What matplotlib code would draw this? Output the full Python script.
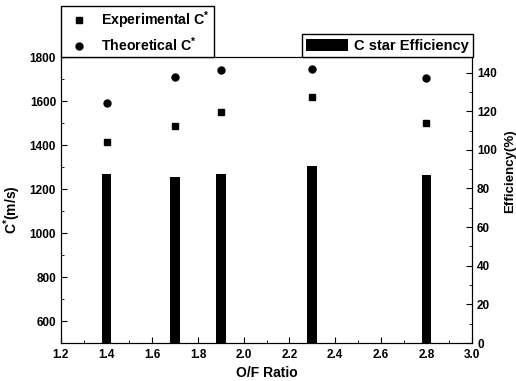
import matplotlib
matplotlib.use("Agg")
import matplotlib.pyplot as plt
from matplotlib.ticker import MultipleLocator

plt.rcParams['font.family'] = ['Liberation Sans', 'DejaVu Sans']
plt.rcParams['font.weight'] = 'bold'
plt.rcParams['mathtext.default'] = 'regular'

of_ratio = [1.4, 1.7, 1.9, 2.3, 2.8]
exp_cstar = [1415, 1489, 1552, 1619, 1502]
theo_cstar = [1593, 1709, 1743, 1746, 1705]
efficiency = [87.7, 85.8, 87.7, 91.9, 87.2]

fig = plt.figure(figsize=(5.16, 3.81), dpi=100)
ax = fig.add_axes([0.118, 0.0997, 0.797, 0.7503])
ax2 = ax.twinx()

bars = ax2.bar(of_ratio, efficiency, width=0.042, color='black', label='C star Efficiency', zorder=1)
ax2.set_ylim(0, 148)
ax2.yaxis.set_major_locator(MultipleLocator(20))
ax2.yaxis.set_minor_locator(MultipleLocator(10))

ax.set_zorder(ax2.get_zorder() + 1)
ax.patch.set_visible(False)
l1, = ax.plot(of_ratio, exp_cstar, 's', color='black', ms=4.5, label=r'Experimental C$^{*}$', linestyle='none')
l2, = ax.plot(of_ratio, theo_cstar, 'o', color='black', ms=5, label=r'Theoretical C$^{*}$', linestyle='none')

ax.set_xlim(1.2, 3.0)
ax.set_ylim(500, 1800)
ax.xaxis.set_major_locator(MultipleLocator(0.2))
ax.xaxis.set_minor_locator(MultipleLocator(0.1))
ax.yaxis.set_major_locator(MultipleLocator(200))
ax.yaxis.set_minor_locator(MultipleLocator(100))

for a in (ax, ax2):
    a.tick_params(which='both', direction='in', labelsize=8.5)
    a.tick_params(which='major', length=4)
    a.tick_params(which='minor', length=2)
    for lab in a.get_xticklabels() + a.get_yticklabels():
        lab.set_fontweight('bold')
ax.tick_params(axis='x', pad=4)

ax.set_xlabel('O/F Ratio', fontsize=10, fontweight='bold', labelpad=4)
ax.set_ylabel(r'C$^{*}$(m/s)', fontsize=10, fontweight='bold')
ax.yaxis.set_label_coords(-0.092, 0.465)
ax2.set_ylabel('Efficiency(%)', fontsize=9.5, fontweight='bold')
ax2.yaxis.set_label_coords(1.078, 0.60)

leg1 = fig.legend(handles=[l1, l2], loc='lower left', bbox_to_anchor=(0.118, 0.850),
                  borderaxespad=0, fancybox=False, edgecolor='black', framealpha=1,
                  prop={'weight': 'bold', 'size': 10.2}, handletextpad=0.6,
                  borderpad=0.25, labelspacing=0.3)
leg1.get_frame().set_linewidth(1.0)
leg2 = fig.legend(handles=[bars], loc='lower right', bbox_to_anchor=(0.917, 0.850),
                  borderaxespad=0, fancybox=False, edgecolor='black', framealpha=1,
                  prop={'weight': 'bold', 'size': 10.5}, handlelength=2.9, handleheight=0.9,
                  handletextpad=0.4, borderpad=0.3)
leg2.get_frame().set_linewidth(1.0)

fig.savefig('out.png', dpi=100)
